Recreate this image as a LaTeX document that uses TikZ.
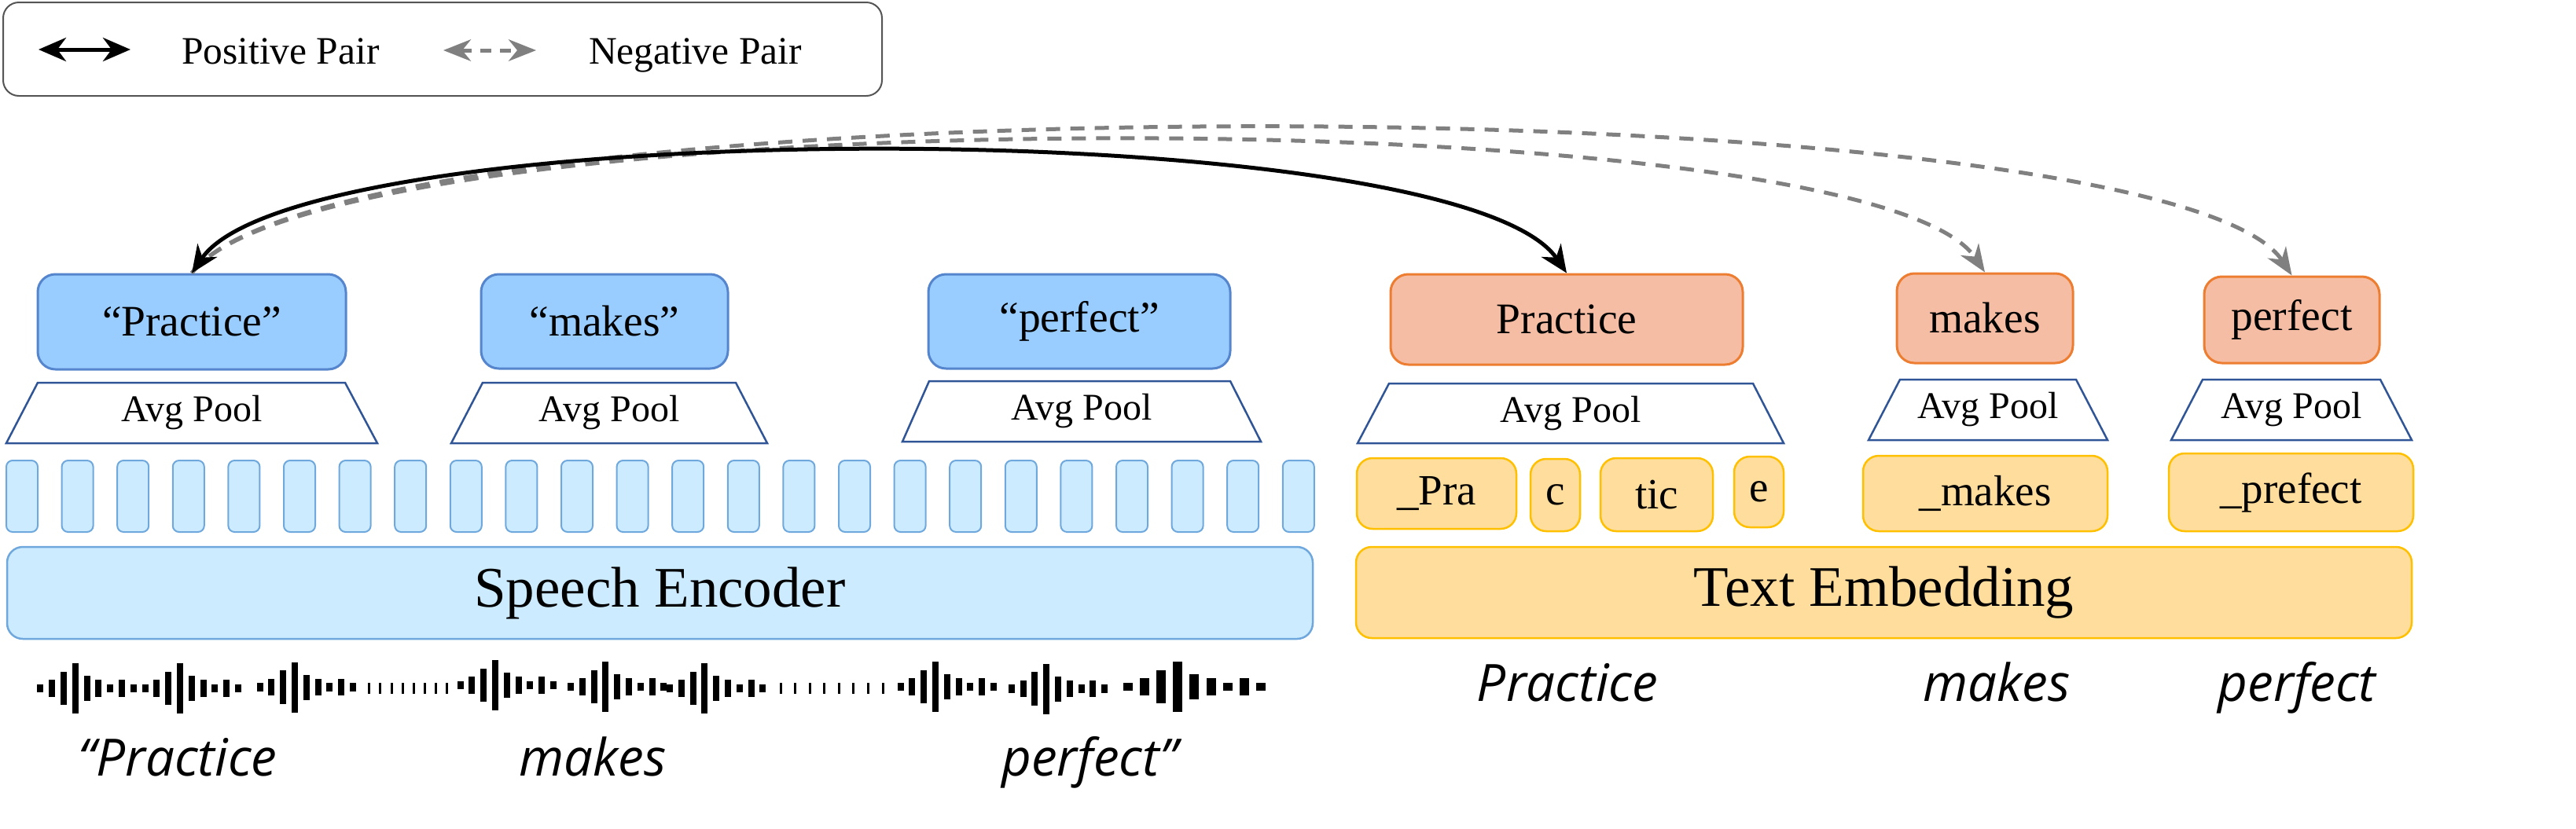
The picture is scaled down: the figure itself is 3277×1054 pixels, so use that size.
\documentclass[tikz,border=0pt]{standalone}
\usepackage{fontspec}
\setmainfont{Liberation Serif}
\newfontfamily\lblfont{Open Sans}
\usetikzlibrary{arrows.meta}
\definecolor{bfill}{HTML}{99CCFF}
\definecolor{bdraw}{HTML}{5585CC}
\definecolor{lbfill}{HTML}{CCEBFF}
\definecolor{lbdraw}{HTML}{6FA8DC}
\definecolor{tdraw}{HTML}{2F5597}
\definecolor{ofill}{HTML}{F5BDA4}
\definecolor{odraw}{HTML}{ED7D31}
\definecolor{yfill}{HTML}{FFDD9C}
\definecolor{ydraw}{HTML}{FFC000}
\definecolor{gline}{HTML}{808080}
\definecolor{legdraw}{HTML}{555555}
\newcommand\rbox[7]{\node[#6, minimum width={(#4-#2)*0.2pt}, minimum height={(#5-#3)*0.2pt}, inner sep=0pt] (#1) at ({(#2+#4)/2},{(#3+#5)/2}) {#7};}
\newcommand\trapz[7]{\draw[trapst] (#2,#4) -- (#3,#4) -- (#6,#7) -- (#5,#7) -- cycle;
  \node[pool] (#1) at ({(#5+#6)/2},{(#4+#7)/2}) {Avg Pool};}
\newcommand\wgroup[4]{\foreach \h [count=\i from 0] in {10.7,21.3,42.7,64,32,21.3,10.7,21.3,10.7} {
   \fill ({#1+\i*#2-#3/2},{#4-\h/2}) rectangle ({#1+\i*#2+#3/2},{#4+\h/2});}}
\newcommand\thinbars[3]{\foreach \i in {0,...,7} {\fill ({#1+\i*#2-1.5},{#3-7.35}) rectangle ++(3,14.7);}}
\begin{document}
\begin{tikzpicture}[x=0.2pt,y=-0.2pt,
  wordb/.style={draw=bdraw, fill=bfill, line width=0.6pt, rounded corners=4.5pt, font=\fontsize{11.1}{13}\selectfont},
  wordo/.style={draw=odraw, fill=ofill, line width=0.6pt, rounded corners=4.5pt, font=\fontsize{11.1}{13}\selectfont},
  tok/.style={draw=ydraw, fill=yfill, line width=0.5pt, rounded corners=4pt, font=\fontsize{11}{13}\selectfont},
  encb/.style={draw=lbdraw, fill=lbfill, line width=0.5pt, rounded corners=4pt, font=\fontsize{14.6}{17}\selectfont},
  ency/.style={draw=ydraw, fill=yfill, line width=0.5pt, rounded corners=4pt, font=\fontsize{14.6}{17}\selectfont},
  barst/.style={draw=lbdraw, fill=lbfill, line width=0.4pt, rounded corners=1.6pt},
  trapst/.style={draw=tdraw, fill=white, line width=0.5pt},
  pool/.style={font=\fontsize{9.6}{11}\selectfont, inner sep=0pt},
  lbl/.style={font=\lblfont\itshape\fontsize{13.1}{15}\selectfont, anchor=base, inner sep=0pt},
  legtxt/.style={font=\fontsize{9.9}{12}\selectfont, anchor=base west, inner sep=0pt},
  posln/.style={draw=black, line width=1pt},
  negln/.style={draw=gline, line width=1pt, dash pattern=on 3.6pt off 2.6pt},
  tipk/.tip={Stealth[length=7pt,width=6pt,inset=2.2pt]},
  tipg/.tip={Stealth[length=7pt,width=5.5pt,inset=2.2pt,gline]}
]
\useasboundingbox (0,0) rectangle (3277,1054);
% legend
\draw[legdraw, line width=0.4pt, fill=white, rounded corners=4pt] (4,3) rectangle (1122,122);
\coordinate (la1) at (49,63); \coordinate (la2) at (166,63);
\draw[posln, tipk-tipk] (la1) -- (la2);
\node[legtxt] (lpos) at (230,81) {Positive Pair};
\coordinate (ln1) at (564,64); \coordinate (ln2) at (682,64);
\draw[negln, dash pattern=on 2.8pt off 2.2pt, tipg-tipg] (ln1) -- (ln2);
\node[legtxt] (lneg) at (748,81) {Negative Pair};
% blue word boxes
\rbox{bP}{48}{349}{440}{470}{wordb}{“Practice”}
\rbox{bM}{612}{349}{926}{469}{wordb}{“makes”}
\rbox{bF}{1181}{349}{1565}{469}{wordb}{“perfect”}
% orange word boxes
\rbox{oP}{1769}{349}{2217}{464}{wordo}{Practice}
\rbox{oM}{2413}{348}{2637}{462}{wordo}{makes}
\rbox{oF}{2804}{352}{3027}{462}{wordo}{perfect}
% trapezoids
\trapz{t1}{48}{439}{487}{8}{480}{564}
\trapz{t2}{614}{936}{487}{574}{976}{564}
\trapz{t3}{1182}{1565}{485}{1148}{1604}{562}
\trapz{t4}{1767}{2230}{488}{1727}{2269}{564}
\trapz{t5}{2417}{2641}{483}{2377}{2681}{560}
\trapz{t6}{2802}{3028}{483}{2762}{3068}{560}
% speech frame bars
\foreach \i in {0,...,23} {\draw[barst] ({8+\i*70.6},586) rectangle ({48+\i*70.6},677);}
% token boxes
\rbox{k1}{1726}{583}{1929}{673}{tok}{\_Pra}
\rbox{k2}{1947}{584}{2010}{676}{tok}{c}
\rbox{k3}{2036}{583}{2179}{676}{tok}{tic}
\rbox{k4}{2206}{581}{2269}{671}{tok}{e}
\rbox{k5}{2370}{580}{2681}{676}{tok}{\_makes}
\rbox{k6}{2759}{577}{3070}{676}{tok}{\_prefect}
% encoders
\rbox{se}{9}{696}{1670}{813}{encb}{Speech Encoder}
\rbox{te}{1725}{696}{3068}{812}{ency}{Text Embedding}
% waveform
\wgroup{51.4}{14.8}{8}{876}
\wgroup{184.6}{14.8}{8}{876}
\wgroup{330.5}{14.8}{8}{874.7}
\thinbars{469.8}{14.14}{876}
\wgroup{585.6}{14.8}{8}{872}
\wgroup{726}{14.8}{8}{874}
\wgroup{852}{14.8}{8}{876}
\thinbars{993}{18.57}{876}
\wgroup{1145.5}{14.8}{8}{874}
\wgroup{1286.8}{14.8}{8}{876.7}
\wgroup{1435}{21.1}{12}{874}
% labels
\node[lbl] (w1) at (226,987) {“Practice};
\node[lbl] (w2) at (754,987) {makes};
\node[lbl] (w3) at (1386,987) {perfect”};
\node[lbl] (x1) at (1994,892) {Practice};
\node[lbl] (x2) at (2540,892) {makes};
\node[lbl] (x3) at (2922,892) {perfect};
% connectors
\draw[negln, -tipg] (bP.north) .. controls +(172,-225) and +(-150,-225) .. (oM.north);
\draw[negln, -tipg] (bP.north) .. controls +(188,-250) and +(-160,-246) .. (oF.north);
\draw[posln, tipk-tipk] (bP.north) .. controls +(140,-205) and +(-140,-205) .. (oP.north);
\end{tikzpicture}
\end{document}
